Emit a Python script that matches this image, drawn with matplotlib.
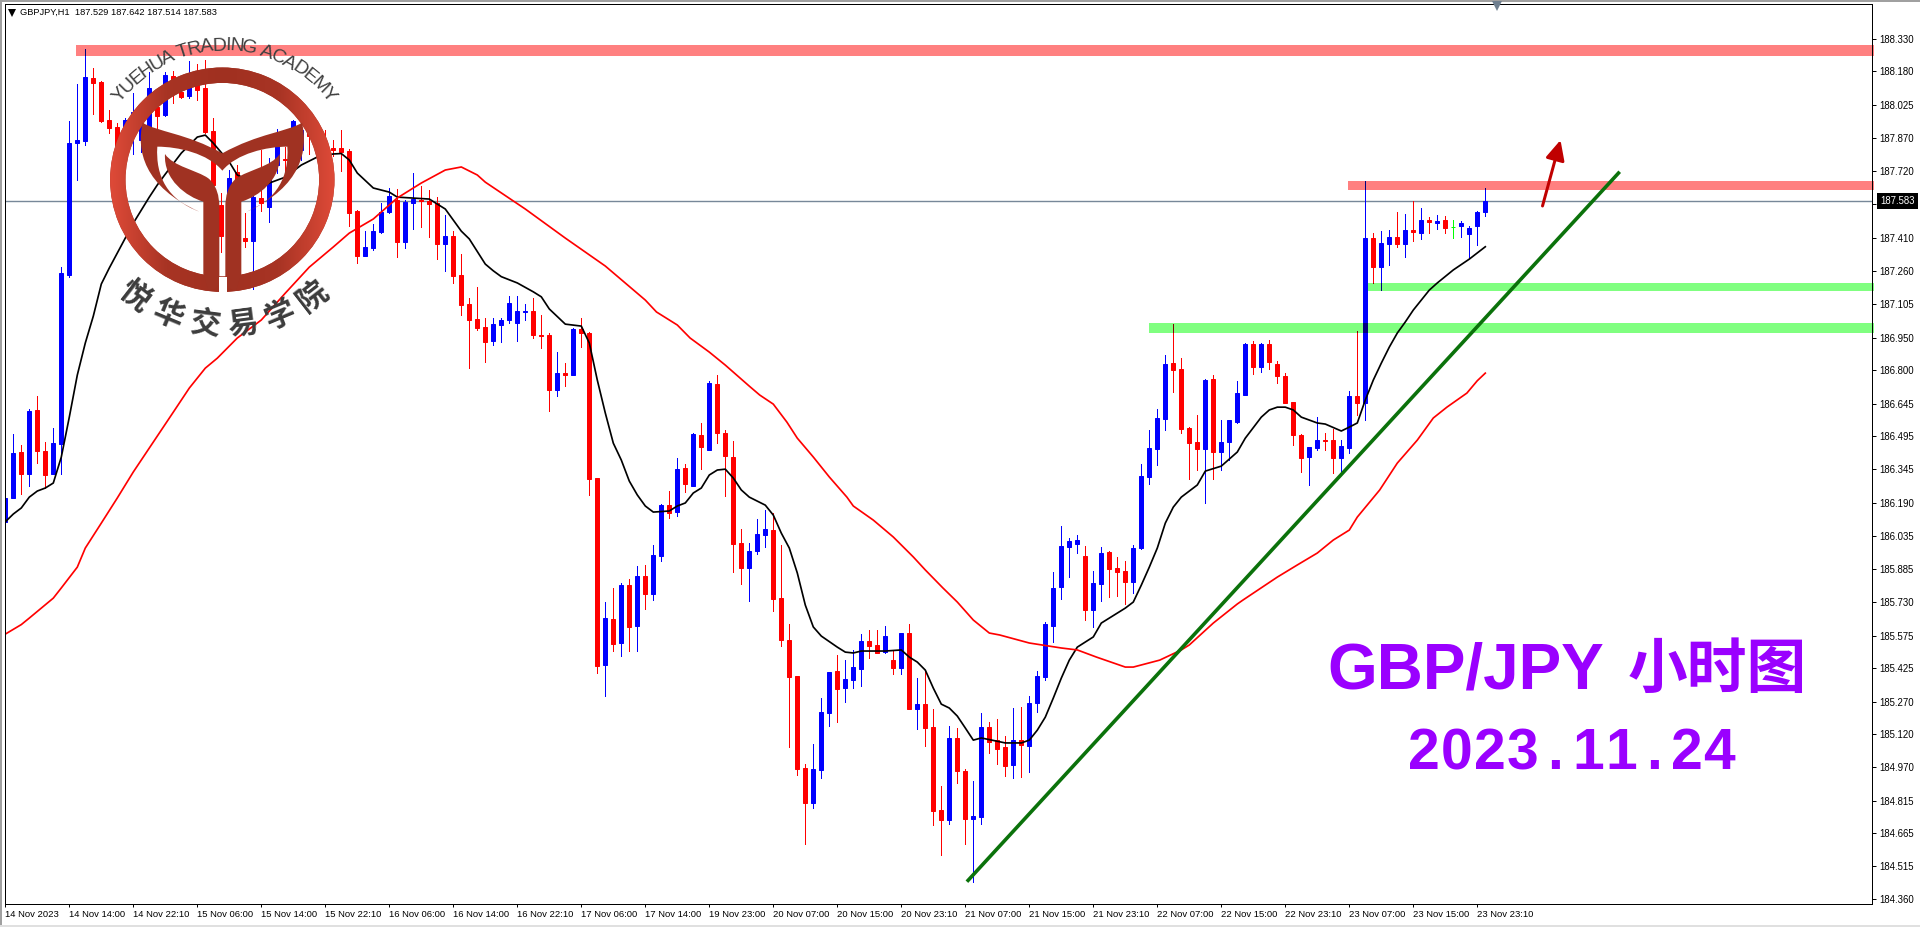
import numpy as np
import matplotlib
matplotlib.use("Agg")
import matplotlib.pyplot as plt
from matplotlib.colors import LinearSegmentedColormap
from matplotlib.font_manager import FontProperties
from matplotlib.patches import PathPatch, Rectangle, Wedge
from matplotlib.path import Path
from matplotlib.transforms import Affine2D

# GBPJPY H1 candles
opens = [
    186.101, 186.212, 186.423, 186.323, 186.617, 186.428, 186.323, 186.461, 187.239, 187.850,
    187.858, 188.148, 188.130, 187.954, 187.921, 187.871, 187.885, 187.862, 187.918, 188.014,
    187.978, 188.157, 188.085, 188.065, 188.139, 188.102, 187.904, 187.562, 187.567, 187.715,
    187.410, 187.398, 187.595, 187.553, 187.747, 187.777, 187.825, 187.816, 187.908, 187.899,
    187.848, 187.824, 187.825, 187.811, 187.535, 187.327, 187.363, 187.439, 187.530, 187.585,
    187.390, 187.573, 187.585, 187.581, 187.570, 187.382, 187.419, 187.239, 187.106, 187.036,
    186.999, 186.935, 187.010, 187.032, 187.019, 187.069, 187.073, 186.963, 186.963, 186.709,
    186.786, 186.778, 186.990, 186.972, 186.303, 185.440, 185.652, 185.543, 185.809, 185.622,
    185.851, 185.768, 185.943, 186.178, 186.146, 186.349, 186.266, 186.501, 186.432, 186.737,
    186.511, 186.400, 186.003, 185.888, 185.966, 186.040, 186.063, 185.749, 185.556, 185.390,
    184.965, 184.804, 184.956, 185.219, 185.413, 185.334, 185.371, 185.422, 185.551, 185.533,
    185.500, 185.463, 185.426, 185.588, 185.237, 185.260, 185.154, 184.771, 184.725, 185.104,
    184.951, 184.730, 184.739, 185.154, 185.094, 185.062, 184.979, 185.094, 185.067, 185.265,
    185.385, 185.620, 185.800, 185.985, 185.998, 185.943, 185.694, 185.814, 185.962, 185.888,
    185.874, 185.823, 185.980, 186.308, 186.437, 186.575, 186.833, 186.806, 186.534, 186.469,
    186.437, 186.760, 186.423, 186.469, 186.561, 186.686, 186.921, 186.815, 186.921, 186.829,
    186.774, 186.654, 186.501, 186.400, 186.441, 186.478, 186.478, 186.395, 186.441, 186.681,
    186.649, 187.410, 187.276, 187.382, 187.415, 187.382, 187.447, 187.433, 187.493, 187.479,
    187.493, 187.463, 187.465, 187.429, 187.465, 187.529,
]
highs = [
    186.234, 186.506, 186.455, 186.621, 186.681, 186.469, 186.534, 187.278, 187.950, 188.121,
    188.281, 188.193, 188.134, 188.001, 187.939, 187.966, 188.078, 187.954, 188.176, 188.084,
    188.176, 188.182, 188.153, 188.227, 188.213, 188.231, 187.962, 187.618, 187.724, 187.747,
    187.525, 187.650, 187.816, 187.779, 187.913, 187.830, 187.954, 187.941, 187.931, 187.918,
    187.908, 187.862, 187.908, 187.821, 187.539, 187.442, 187.475, 187.570, 187.641, 187.636,
    187.585, 187.710, 187.650, 187.632, 187.601, 187.516, 187.442, 187.336, 187.132, 187.183,
    187.041, 187.041, 187.041, 187.143, 187.143, 187.106, 187.133, 187.055, 186.970, 186.884,
    186.832, 186.995, 187.041, 186.976, 186.303, 185.731, 185.796, 185.817, 185.836, 185.897,
    185.902, 185.994, 186.183, 186.243, 186.395, 186.368, 186.511, 186.557, 186.750, 186.778,
    186.524, 186.474, 186.068, 186.003, 186.114, 186.155, 186.142, 185.994, 185.629, 185.390,
    184.984, 185.076, 185.288, 185.408, 185.486, 185.463, 185.510, 185.583, 185.602, 185.602,
    185.620, 185.510, 185.588, 185.629, 185.380, 185.417, 185.237, 184.882, 185.159, 185.150,
    184.961, 184.905, 185.219, 185.177, 185.191, 185.113, 185.242, 185.247, 185.297, 185.413,
    185.639, 185.869, 186.082, 186.026, 186.040, 185.989, 185.874, 185.985, 185.966, 185.939,
    185.920, 185.994, 186.368, 186.524, 186.621, 186.870, 187.013, 186.857, 186.538, 186.594,
    186.760, 186.778, 186.571, 186.571, 186.750, 186.926, 186.935, 186.926, 186.940, 186.843,
    186.787, 186.654, 186.506, 186.446, 186.584, 186.511, 186.529, 186.478, 186.704, 186.981,
    187.673, 187.433, 187.442, 187.447, 187.530, 187.521, 187.581, 187.549, 187.507, 187.516,
    187.512, 187.493, 187.489, 187.465, 187.535, 187.642,
]
lows = [
    186.100, 186.212, 186.231, 186.267, 186.374, 186.258, 186.321, 186.323, 187.232, 187.678,
    187.839, 187.982, 187.947, 187.896, 187.816, 187.825, 187.798, 187.807, 187.871, 187.913,
    187.975, 188.033, 188.058, 188.057, 188.047, 187.894, 187.622, 187.347, 187.516, 187.539,
    187.370, 187.173, 187.536, 187.484, 187.710, 187.687, 187.770, 187.770, 187.798, 187.784,
    187.788, 187.788, 187.721, 187.467, 187.293, 187.327, 187.355, 187.435, 187.527, 187.324,
    187.363, 187.453, 187.462, 187.416, 187.312, 187.258, 187.204, 187.055, 186.812, 186.986,
    186.840, 186.918, 186.932, 187.019, 186.935, 187.032, 186.950, 186.901, 186.612, 186.681,
    186.727, 186.778, 186.909, 186.225, 185.405, 185.299, 185.505, 185.482, 185.505, 185.505,
    185.699, 185.740, 185.920, 186.118, 186.128, 186.238, 186.266, 186.344, 186.432, 186.464,
    186.220, 185.869, 185.814, 185.736, 185.952, 185.985, 185.689, 185.528, 185.062, 184.933,
    184.615, 184.781, 184.919, 185.159, 185.177, 185.270, 185.334, 185.343, 185.473, 185.496,
    185.496, 185.399, 185.399, 185.237, 185.145, 185.067, 184.702, 184.564, 184.707, 184.896,
    184.615, 184.439, 184.707, 185.034, 184.984, 184.928, 184.919, 184.924, 184.947, 185.224,
    185.371, 185.546, 185.745, 185.846, 185.957, 185.648, 185.616, 185.736, 185.754, 185.759,
    185.722, 185.772, 185.975, 186.275, 186.363, 186.524, 186.700, 186.511, 186.298, 186.340,
    186.188, 186.298, 186.340, 186.386, 186.557, 186.686, 186.783, 186.792, 186.806, 186.741,
    186.649, 186.455, 186.331, 186.271, 186.432, 186.432, 186.326, 186.326, 186.418, 186.594,
    186.571, 187.203, 187.170, 187.286, 187.369, 187.322, 187.396, 187.406, 187.433, 187.452,
    187.433, 187.410, 187.415, 187.318, 187.378, 187.514,
]
closes = [
    186.212, 186.418, 186.323, 186.613, 186.429, 186.318, 186.464, 187.247, 187.847, 187.862,
    188.153, 188.127, 187.950, 187.918, 187.834, 187.954, 187.991, 187.931, 188.102, 187.973,
    188.162, 188.107, 188.061, 188.139, 188.093, 187.899, 187.655, 187.419, 187.687, 187.655,
    187.398, 187.601, 187.572, 187.701, 187.862, 187.770, 187.950, 187.908, 187.881, 187.881,
    187.825, 187.816, 187.807, 187.527, 187.328, 187.367, 187.441, 187.531, 187.604, 187.390,
    187.578, 187.589, 187.579, 187.567, 187.382, 187.419, 187.235, 187.101, 187.032, 186.994,
    186.930, 187.013, 187.032, 187.110, 187.073, 187.072, 186.963, 186.959, 186.709, 186.786,
    186.779, 186.990, 186.973, 186.298, 185.437, 185.657, 185.537, 185.809, 185.617, 185.851,
    185.768, 185.948, 186.178, 186.140, 186.344, 186.275, 186.506, 186.446, 186.741, 186.511,
    186.404, 185.998, 185.888, 185.966, 186.045, 186.068, 185.745, 185.556, 185.385, 184.961,
    184.804, 184.961, 185.224, 185.408, 185.330, 185.376, 185.431, 185.551, 185.528, 185.496,
    185.574, 185.426, 185.588, 185.237, 185.260, 185.150, 184.767, 184.725, 185.104, 184.951,
    184.730, 184.744, 185.154, 185.085, 185.053, 184.974, 185.094, 185.071, 185.265, 185.390,
    185.629, 185.796, 185.989, 186.012, 186.017, 185.694, 185.819, 185.957, 185.883, 185.869,
    185.823, 185.980, 186.312, 186.441, 186.580, 186.829, 186.801, 186.529, 186.464, 186.437,
    186.755, 186.423, 186.469, 186.571, 186.695, 186.921, 186.815, 186.921, 186.838, 186.774,
    186.649, 186.501, 186.395, 186.446, 186.478, 186.474, 186.395, 186.451, 186.681, 186.649,
    187.410, 187.276, 187.387, 187.415, 187.382, 187.447, 187.438, 187.493, 187.484, 187.489,
    187.456, 187.463, 187.479, 187.456, 187.530, 187.583,
]

# moving averages, read at the bars listed
black_ma_bars = [
    0, 1, 2, 3, 4, 5, 6, 7, 8, 9, 10, 11, 12, 13, 15, 16, 18, 19, 20, 22, 24, 25, 26, 28, 29,
    32, 33, 35, 37, 39, 41, 42, 43, 44, 46, 48, 49, 53, 55, 57, 58, 60, 61, 62, 64, 66, 67, 68,
    70, 72, 73, 74, 75, 76, 77, 78, 79, 80, 81, 83, 84, 85, 86, 87, 88, 89, 90, 91, 92, 93, 95,
    96, 97, 98, 99, 100, 101, 102, 104, 105, 106, 107, 110, 112, 113, 114, 115, 116, 117, 118,
    119, 120, 121, 122, 125, 127, 128, 129, 130, 131, 132, 133, 134, 136, 137, 139, 140, 141,
    142, 143, 144, 145, 146, 147, 149, 150, 152, 154, 155, 157, 158, 159, 160, 161, 162, 164,
    165, 167, 168, 169, 170, 171, 172, 173, 174, 175, 176, 177, 178, 179, 181, 183, 185,
]
black_ma_vals = [
    186.101, 186.137, 186.165, 186.215, 186.243, 186.257, 186.280, 186.400, 186.584, 186.778,
    186.926, 187.050, 187.198, 187.272, 187.410, 187.479, 187.599, 187.655, 187.705, 187.802,
    187.876, 187.885, 187.848, 187.761, 187.701, 187.650, 187.664, 187.691, 187.747, 187.784,
    187.798, 187.800, 187.770, 187.710, 187.641, 187.622, 187.599, 187.590, 187.544, 187.442,
    187.406, 187.290, 187.259, 187.232, 187.203, 187.162, 187.139, 187.083, 187.013, 187.004,
    186.926, 186.755, 186.603, 186.464, 186.386, 186.289, 186.225, 186.174, 186.146, 186.151,
    186.174, 186.188, 186.234, 186.257, 186.317, 186.340, 186.344, 186.303, 186.248, 186.215,
    186.178, 186.132, 186.049, 185.980, 185.865, 185.717, 185.616, 185.574, 185.523, 185.500,
    185.496, 185.505, 185.505, 185.510, 185.477, 185.454, 185.417, 185.334, 185.260, 185.242,
    185.205, 185.150, 185.094, 185.104, 185.081, 185.081, 185.094, 185.140, 185.200, 185.288,
    185.380, 185.463, 185.523, 185.570, 185.634, 185.680, 185.703, 185.731, 185.809, 185.892,
    185.980, 186.095, 186.169, 186.215, 186.271, 186.335, 186.358, 186.423, 186.487, 186.584,
    186.617, 186.630, 186.630, 186.617, 186.584, 186.557, 186.552, 186.520, 186.538, 186.557,
    186.663, 186.755, 186.833, 186.907, 186.972, 187.023, 187.078, 187.124, 187.170, 187.203,
    187.263, 187.313, 187.370,
]
red_ma_bars = [
    0, 2, 3, 6, 7, 9, 10, 12, 14, 16, 18.5, 21, 23, 25, 26.5, 29, 32, 35, 38, 41, 43, 46, 49,
    52, 55, 57, 59, 60, 65, 70, 75, 80, 81.4, 84, 85.6, 88, 90, 93, 94.3, 96, 97.7, 99, 101,
    103, 105.2, 106, 108.5, 111, 113.5, 115, 117.2, 119, 121, 123, 124.3, 128, 132, 134, 136.4,
    140, 141, 144.3, 147, 148, 151, 154, 154.7, 159, 161.5, 164, 166, 168, 169, 171.8, 174,
    176.5, 178.5, 180.2, 182.7, 184, 185,
]
red_ma_vals = [
    185.583, 185.627, 185.657, 185.749, 185.796, 185.892, 185.980, 186.095, 186.211, 186.331,
    186.469, 186.607, 186.718, 186.810, 186.856, 186.949, 187.032, 187.156, 187.276, 187.369,
    187.433, 187.498, 187.595, 187.664, 187.724, 187.738, 187.701, 187.668, 187.544, 187.410,
    187.281, 187.124, 187.069, 187.009, 186.949, 186.884, 186.824, 186.727, 186.686, 186.644,
    186.561, 186.487, 186.400, 186.308, 186.215, 186.174, 186.109, 186.031, 185.939, 185.879,
    185.796, 185.731, 185.648, 185.588, 185.579, 185.542, 185.519, 185.510, 185.477, 185.431,
    185.431, 185.463, 185.510, 185.533, 185.634, 185.722, 185.740, 185.846, 185.902, 185.957,
    186.017, 186.063, 186.123, 186.248, 186.372, 186.478, 186.580, 186.630, 186.695, 186.752,
    186.787,
]

# support / resistance zones: first bar, upper price, lower price
zone_starts = [8.84, 167.8, 170.3, 143.0]
zone_tops = [188.300, 187.673, 187.203, 187.018]
zone_bottoms = [188.251, 187.632, 187.166, 186.972]
zone_colors = ["#FF8080", "#FF8080", "#80FF80", "#80FF80"]

trend_bars = [120.2, 201.8]
trend_prices = [184.441, 187.716]
arrow_bars = [192.15, 194.4]
arrow_prices = [187.558, 187.862]
last_price = 187.583

price_ticks = [
    188.330, 188.180, 188.025, 187.870, 187.720, 187.565, 187.410, 187.260, 187.105, 186.950,
    186.800, 186.645, 186.495, 186.345, 186.190, 186.035, 185.885, 185.730, 185.575, 185.425,
    185.270, 185.120, 184.970, 184.815, 184.665, 184.515, 184.360,
]
time_labels = [
    "14 Nov 2023", "14 Nov 14:00", "14 Nov 22:10", "15 Nov 06:00", "15 Nov 14:00",
    "15 Nov 22:10", "16 Nov 06:00", "16 Nov 14:00", "16 Nov 22:10", "17 Nov 06:00",
    "17 Nov 14:00", "19 Nov 23:00", "20 Nov 07:00", "20 Nov 15:00", "20 Nov 23:10",
    "21 Nov 07:00", "21 Nov 15:00", "21 Nov 23:10", "22 Nov 07:00", "22 Nov 15:00",
    "22 Nov 23:10", "23 Nov 07:00", "23 Nov 15:00", "23 Nov 23:10",
]
BARS_PER_LABEL = 8

W, H = 1920, 927
UI_FONT = "Liberation Sans"
PX = 0.72  # one pixel in points at dpi 100

fig = plt.figure(figsize=(W / 100, H / 100), dpi=100, facecolor="white")
ax = fig.add_axes([4.5 / W, 1 - 904 / H, (1872.3 - 4.5) / W, (904 - 4.4) / H])
ax.set_xlim(-0.1, 233.375)
ax.set_ylim(184.338, 188.488)

bars = np.arange(len(opens))
o = np.array(opens)
c = np.array(closes)
colors = np.where(c > o, "#0000FF", np.where(c < o, "#FF0000", "#00FF00")).tolist()

ax.axhline(last_price, color="#778899", lw=1.4 * PX, zorder=1)

zone_patches = []
for start, top, bottom, col in zip(zone_starts, zone_tops, zone_bottoms, zone_colors):
    r = Rectangle((start, bottom), 233.65 - start, top - bottom, facecolor=col,
                  edgecolor="none", zorder=2, clip_on=False)
    ax.add_patch(r)
    zone_patches.append(r)

ax.vlines(bars, lows, highs, colors=colors, lw=PX, zorder=3, antialiased=False)
ax.bar(bars, c - o, bottom=o, width=4 / 8, color=colors, edgecolor=colors, lw=PX, zorder=3)

# the zones darken whatever runs under them
dark = ["#000080" if col == "#0000FF" else "#800000" if col == "#FF0000" else "#008000" for col in colors]
for r in zone_patches:
    wicks = ax.vlines(bars, lows, highs, colors=dark, lw=PX, zorder=3.2, antialiased=False)
    wicks.set_clip_path(r)
    bodies = ax.vlines(bars, o, c, colors=dark, lw=5 * PX, zorder=3.2, antialiased=False)
    bodies.set_clip_path(r)

ax.plot(black_ma_bars, black_ma_vals, color="black", lw=1.7 * PX, zorder=4)
ax.plot(red_ma_bars, red_ma_vals, color="#FF0000", lw=1.7 * PX, zorder=4)
ax.plot(trend_bars, trend_prices, color="#0B720B", lw=3.6 * PX, zorder=5, solid_capstyle="butt", clip_on=False)
ax.annotate("", xy=(arrow_bars[1], arrow_prices[1]), xytext=(arrow_bars[0], arrow_prices[0]),
            arrowprops=dict(arrowstyle="-|>,head_length=0.75,head_width=0.36", color="#C00000",
                            lw=3 * PX, shrinkA=0, shrinkB=0, mutation_scale=16), zorder=5)

ax.yaxis.tick_right()
ax.set_yticks(price_ticks)
ax.set_yticklabels([f"{p:.3f}" for p in price_ticks], fontsize=6.9, family=UI_FONT)
ax.tick_params(axis="y", length=3.5 * PX, width=PX, pad=2.6, color="black")
ax.set_xticks(np.arange(len(time_labels)) * BARS_PER_LABEL)
ax.set_xticklabels(time_labels, fontsize=6.8, family=UI_FONT, ha="left")
ax.tick_params(axis="x", length=3 * PX, width=PX, pad=2.2, color="black")
for sp in ax.spines.values():
    sp.set_linewidth(PX)
    sp.set_zorder(6)

ax.annotate(f"{last_price:.3f}", xy=(1, last_price), xycoords=("axes fraction", "data"),
            xytext=(5.6, 0), textcoords="offset points", ha="left", va="center",
            fontsize=6.9, family=UI_FONT, color="white", annotation_clip=False, zorder=10,
            bbox=dict(boxstyle="square,pad=0.32", facecolor="black", edgecolor="black", lw=0))

# overlay in screen pixels for the logo, captions and window edges
ov = fig.add_axes([0, 0, 1, 1], zorder=20)
ov.set_xlim(0, W)
ov.set_ylim(H, 0)
ov.axis("off")
ov.patch.set_alpha(0)

ov.add_patch(Rectangle((0, 0), W, 1.6, facecolor="#A0A0A0", edgecolor="none"))
ov.add_patch(Rectangle((0, 0), 2, H, facecolor="#A0A0A0", edgecolor="none"))
ov.add_patch(Rectangle((0, 925), W, 2, facecolor="#E0E0E0", edgecolor="none"))

ov.plot([11.7], [12.6], marker="v", ms=5.2, color="black", mew=0)
ov.text(20, 12.5, "GBPJPY,H1  187.529 187.642 187.514 187.583", fontsize=6.7, family=UI_FONT,
        ha="left", va="center", color="black")
ov.plot([1497], [6], marker="v", ms=7, color="#708090", mew=0)

# logo ring, lighter towards the sides
CX, CY = 222.3, 179.7
ring = Wedge((CX, CY), 112.2, 0, 360, width=15.4, facecolor="#A03222", edgecolor="none", zorder=1)
ov.add_patch(ring)
shade = LinearSegmentedColormap.from_list("ring", ["#DE4A38", "#A83424", "#A03020", "#A83424", "#DE4A38"])
img = ov.imshow(np.linspace(0, 1, 256)[None, :], extent=[110, 334.6, 292, 67], aspect="auto", cmap=shade, zorder=2)
img.set_clip_path(ring)
ov.set_xlim(0, W)
ov.set_ylim(H, 0)

to_px = Affine2D().scale(1 / 3) + ov.transData
MM, CC, LL, ZZ = Path.MOVETO, Path.CURVE4, Path.LINETO, Path.CLOSEPOLY
crest = Path(
    [(428, 368), (470, 395), (560, 400), (667, 460), (774, 400), (864, 395), (906, 368),
     (925, 450), (905, 560), (740, 635), (830, 600), (868, 530), (862, 440),
     (800, 440), (710, 460), (667, 512), (624, 460), (534, 440), (472, 440),
     (466, 530), (504, 600), (598, 635), (430, 560), (409, 450), (428, 368), (428, 368)],
    [MM] + [CC] * 24 + [ZZ],
)
ov.add_patch(PathPatch(crest, facecolor="#A03222", edgecolor="none", transform=to_px, zorder=3))
stem_verts = [(495, 462), (520, 500), (590, 510), (625, 535), (650, 555), (658, 590), (658, 620),
              (658, 845), (658, 860), (640, 872), (625, 872), (610, 822), (610, 605),
              (560, 590), (490, 540), (495, 462), (495, 462)]
stem_codes = [MM] + [CC] * 6 + [LL] + [CC] * 3 + [LL, LL] + [CC] * 3 + [ZZ]
ov.add_patch(PathPatch(Path(stem_verts, stem_codes), facecolor="#A03222", edgecolor="none",
                       transform=to_px, zorder=3))
ov.add_patch(PathPatch(Path([(1334 - x, y) for x, y in stem_verts], stem_codes), facecolor="#A03222",
                       edgecolor="none", transform=to_px, zorder=3))
ov.add_patch(Rectangle((219.4, 277), 7.2, 17, facecolor="white", edgecolor="none", zorder=4))

# curved captions of the logo
renderer = fig.canvas.get_renderer()
en_font = FontProperties(family="Liberation Sans", size=14)
arc_text = "YUEHUA TRADING ACADEMY"
widths = [renderer.get_text_width_height_descent(ch, en_font, False)[0] for ch in arc_text]
total = sum(widths)
ARC_CX, ARC_CY, ARC_R, ARC_SPAN = 224, 181, 135, np.radians(106)
done = 0
for ch, wd in zip(arc_text, widths):
    th = (done + wd / 2) / total * ARC_SPAN - ARC_SPAN / 2
    ov.text(ARC_CX + ARC_R * np.sin(th), ARC_CY - ARC_R * np.cos(th), ch, fontproperties=en_font,
            color="#404040", ha="center", va="center", rotation=-np.degrees(th),
            rotation_mode="anchor", zorder=5)
    done += wd
cn_text = "悦华交易学院"
for k, ch in enumerate(cn_text):
    th = np.radians((k - 2.5) * 15.1)
    ov.text(ARC_CX + 145 * np.sin(th), ARC_CY + 145 * np.cos(th), ch, family="Noto Sans CJK SC",
            fontsize=22, fontweight="bold", color="#3C3C3C", ha="center", va="center",
            rotation=np.degrees(th), rotation_mode="anchor", zorder=5)

PURPLE = "#9A00FF"
ov.text(1327, 671, "GBP/JPY", family="Liberation Sans", fontweight="bold", fontsize=46,
        color=PURPLE, ha="left", va="center")
ov.text(1628, 671, "小时图", family="Noto Sans CJK SC", fontweight="bold", fontsize=43,
        color=PURPLE, ha="left", va="center")
# the date sits on a fixed pitch, dots included
for k, ch in enumerate("2023.11.24"):
    ov.text(1424 + 32.8 * k, 754, ch, family="Liberation Sans", fontweight="bold", fontsize=41,
            color=PURPLE, ha="center", va="center")

fig.savefig("out.png", dpi=100)
